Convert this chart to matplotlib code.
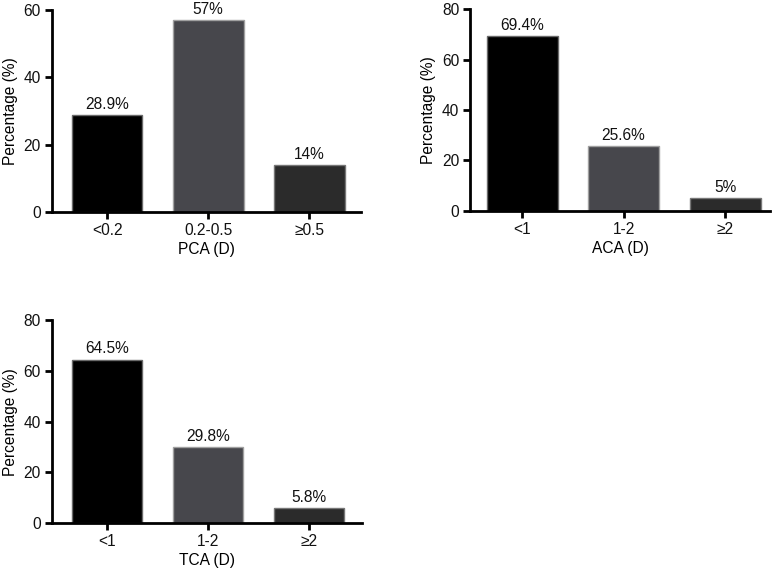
import matplotlib
matplotlib.use("Agg")
import matplotlib.pyplot as plt

plt.rcParams['font.family'] = ['Liberation Sans', 'DejaVu Sans']

# data
pca_cats = ["<0.2", "0.2-0.5", "\u22650.5"]
pca_vals = [28.9, 57, 14]
pca_labels = ["28.9%", "57%", "14%"]

aca_cats = ["<1", "1-2", "\u22652"]
aca_vals = [69.4, 25.6, 5]
aca_labels = ["69.4%", "25.6%", "5%"]

tca_cats = ["<1", "1-2", "\u22652"]
tca_vals = [64.5, 29.8, 5.8]
tca_labels = ["64.5%", "29.8%", "5.8%"]

BAR_COLORS = ["#000000", "#47474c", "#2b2b2b"]
EDGE_COLORS = ["#6a6a6a", "#a0a0a0", "#777777"]
FS = 11.2


def draw_panel(ax, cats, vals, labels, xlabel, ymax, yticks, xlim):
    x = range(len(cats))
    ax.bar(x, vals, width=0.7, color=BAR_COLORS, edgecolor=EDGE_COLORS,
           linewidth=1.0, zorder=2)
    for xi, v, lab in zip(x, vals, labels):
        ax.text(xi, v + ymax * 0.015, lab, ha="center", va="bottom",
                fontsize=FS, color="#111111")
    ax.set_xlim(*xlim)
    ax.set_ylim(0, ymax)
    ax.set_yticks(yticks)
    ax.set_xticks(list(x))
    ax.set_xticklabels(cats)
    ax.set_xlabel(xlabel, fontsize=FS, labelpad=3)
    ax.set_ylabel("Percentage (%)", fontsize=FS, labelpad=4)
    for s in ["top", "right"]:
        ax.spines[s].set_visible(False)
    for s in ["left", "bottom"]:
        ax.spines[s].set_linewidth(2)
    ax.tick_params(axis="both", width=2, length=5, labelsize=FS,
                   direction="out", pad=3)
    for lab in ax.get_xticklabels() + ax.get_yticklabels():
        lab.set_color("#111111")


fig = plt.figure(figsize=(7.76, 5.76), dpi=100)

ax1 = fig.add_axes([0.067, 0.632, 0.398, 0.351])
draw_panel(ax1, pca_cats, pca_vals, pca_labels, "PCA (D)", 60,
           [0, 20, 40, 60], (-0.545, 2.51))

ax2 = fig.add_axes([0.606, 0.634, 0.386, 0.350])
draw_panel(ax2, aca_cats, aca_vals, aca_labels, "ACA (D)", 80,
           [0, 20, 40, 60, 80], (-0.51, 2.44))

ax3 = fig.add_axes([0.067, 0.092, 0.399, 0.352])
draw_panel(ax3, tca_cats, tca_vals, tca_labels, "TCA (D)", 80,
           [0, 20, 40, 60, 80], (-0.545, 2.52))

fig.savefig("out.png", dpi=100)
